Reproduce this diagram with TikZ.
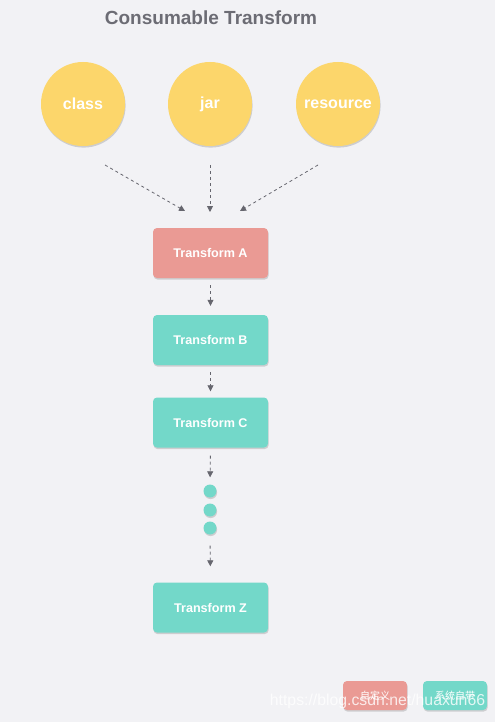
\documentclass[tikz,border=0pt]{standalone}
\usepackage{fontspec}
\setmainfont{Liberation Sans}
\newfontfamily\cjk{Noto Sans CJK SC}
\usetikzlibrary{arrows.meta,shadows}
\definecolor{bg}{HTML}{F2F2F5}
\definecolor{ttl}{HTML}{6C6C74}
\definecolor{yel}{HTML}{FCD66B}
\definecolor{sal}{HTML}{EA9A94}
\definecolor{teal}{HTML}{73D8C9}
\definecolor{arr}{HTML}{66666E}
\tikzset{
  shad/.style={drop shadow={shadow xshift=0.6pt,shadow yshift=-1.6pt,opacity=0.22,fill=black!70}},
  src/.style={circle,fill=yel,minimum size=84pt,inner sep=0pt,shad,text=white,font=\fontsize{16}{18}\selectfont\bfseries},
  tbox/.style={rectangle,rounded corners=4pt,minimum width=115pt,minimum height=50pt,inner sep=0pt,shad,text=white,font=\fontsize{12.6}{14}\selectfont\bfseries},
  custom/.style={tbox,fill=sal},
  builtin/.style={tbox,fill=teal},
  legbox/.style={rectangle,rounded corners=4pt,minimum width=64pt,minimum height=29pt,inner sep=0pt,shad,text=white,font=\cjk\fontsize{10}{12}\selectfont},
  dot/.style={circle,fill=teal,minimum size=13pt,inner sep=0pt,shad},
  flow/.style={draw=arr,line width=0.8pt,dash pattern=on 3pt off 3pt,-{Triangle[width=6pt,length=6pt]}}
}
\begin{document}
\begin{tikzpicture}[x=1pt,y=-1pt]
\fill[bg] (0,0) rectangle (495,722);
\useasboundingbox (0,0) rectangle (495,722);
\node[text=ttl,font=\fontsize{19}{22}\selectfont\bfseries] (title) at (211,18) {Consumable Transform};
\node[src] (class) at (83,104) {class};
\node[src] (jar) at (210,104) {jar};
\node[src] (res) at (338,104) {resource};
\node[custom] (A) at (210.5,253) {Transform A};
\node[builtin] (B) at (210.5,340) {Transform B};
\node[builtin] (C) at (210.5,422.5) {Transform C};
\node[dot] (d1) at (210,491) {};
\node[dot] (d2) at (210,510) {};
\node[dot] (d3) at (210,528) {};
\node[builtin] (Z) at (210.5,607.5) {Transform Z};
\coordinate (s1) at (105,165);
\coordinate (e1) at (185,211);
\coordinate (s2) at (210,165);
\coordinate (e2) at (210,212);
\coordinate (s3) at (318,165);
\coordinate (e3) at (240,211);
\draw[flow] (s1) -- (e1);
\draw[flow] (s2) -- (e2);
\draw[flow] (s3) -- (e3);
\draw[flow,shorten <=7pt,shorten >=9pt] (A.south) -- (B.north);
\draw[flow,shorten <=7pt,shorten >=6pt] (B.south) -- (C.north);
\draw[flow,shorten <=8pt,shorten >=7pt] (C.south) -- (d1.north);
\draw[flow,shorten <=11pt,shorten >=16pt] (d3.south) -- (Z.north);
\node[legbox,fill=sal] (leg1) at (375,695.5) {自定义};
\node[legbox,fill=teal] (leg2) at (455,695.5) {系统自带};
\node[text=white,opacity=0.8,font=\fontsize{15.8}{18}\selectfont] (wm) at (377.5,701) {https://blog.csdn.net/huaxun66};
\end{tikzpicture}
\end{document}
